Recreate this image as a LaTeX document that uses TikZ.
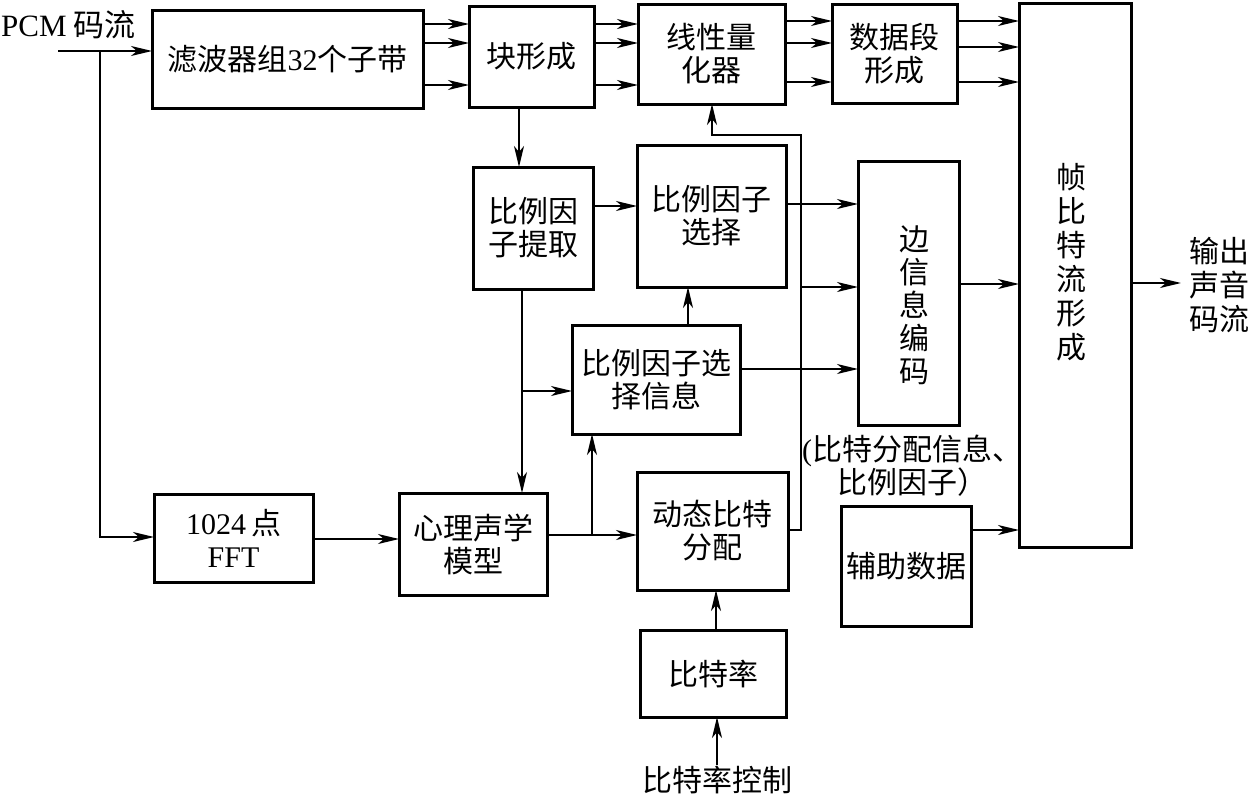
\documentclass[tikz,border=0pt]{standalone}
\usepackage{fontspec}
\setmainfont{Liberation Serif}
\newfontfamily\zhfont{Noto Sans CJK SC}
\newfontfamily\latf{Liberation Serif}
\newcommand\zfont{\zhfont\fontsize{30}{33}\selectfont}
\newcommand\zfontb{\zhfont\fontsize{30}{34}\selectfont}
\newcommand\zfontc{\zhfont\fontsize{31}{34}\selectfont}
\usetikzlibrary{arrows.meta}
\begin{document}
\begin{tikzpicture}[x=1pt,y=-1pt,
  box/.style={draw,line width=3pt,rectangle,inner sep=0pt,outer sep=0pt,align=center,font=\zfont},
  arr/.style={line width=1.9pt,line join=miter,-{Stealth[length=21pt,width=10pt,inset=6pt]}},
  txt/.style={inner sep=0pt,align=center,font=\zfont}]
\useasboundingbox (0,0) rectangle (1249,798);

% boxes
\node[box,minimum width=271pt,minimum height=98pt] (filt) at (287.5,59) {滤波器组{\latf 32}个子带};
\node[box,minimum width=125pt,minimum height=101pt] (blk) at (531.5,56.5) {块形成};
\node[box,minimum width=147pt,minimum height=100pt] (lin) at (711.5,54) {线性量\\化器};
\node[box,minimum width=125pt,minimum height=99pt] (dseg) at (894.5,53.5) {数据段\\形成};
\node[box,minimum width=112pt,minimum height=544pt] (frame) at (1075,275) {};
\node[txt,font=\zfontb] (framet) at (1071,262) {帧\\比\\特\\流\\形\\成};
\node[box,minimum width=120pt,minimum height=122pt] (sfe) at (533,228) {比例因\\子提取};
\node[box,minimum width=149pt,minimum height=142pt] (sfs) at (711.5,216) {比例因子\\选择};
\node[box,minimum width=168pt,minimum height=109pt] (sfsi) at (656,379.5) {比例因子选\\择信息};
\node[box,minimum width=101pt,minimum height=264pt] (side) at (908.5,293) {};
\node[txt] (sidet) at (914,305) {边\\信\\息\\编\\码};
\node[box,minimum width=159pt,minimum height=88pt] (fft) at (233.5,538) {{\latf 1024}\,点\\{\latf FFT}};
\node[box,minimum width=148pt,minimum height=102pt] (psy) at (473,544) {心理声学\\模型};
\node[box,minimum width=151pt,minimum height=118pt] (dba) at (712.5,531) {动态比特\\分配};
\node[box,minimum width=130pt,minimum height=120pt] (aux) at (906,566) {辅助数据};
\node[box,minimum width=146pt,minimum height=87pt] (br) at (713,673.5) {比特率};

% free texts
\node[txt,anchor=west,font=\zfontc] (pcm) at (1,25) {{\latf PCM}\ 码流};
\node[txt] (brc) at (717,780) {比特率控制};
\node[txt] (note) at (912,466) {{\latf (}比特分配信息、\\比例因子）};
\node[txt,anchor=west,align=left,font=\zfontb] (out) at (1189,285) {输出\\声音\\码流};

% connectors
\coordinate (in) at (58,51);
\coordinate (b1) at (100,51);
\coordinate (b2) at (100,537);
\draw[arr] (in) -- (in -| filt.west);
\draw[arr] (b1) -- (b2) -- (b2 -| fft.west);

\foreach \yy in {24,43,85} {
  \coordinate (r) at (0,\yy);
  \draw[arr] (filt.east |- r) -- (blk.west |- r);
  \draw[arr] (blk.east |- r) -- (lin.west |- r);
}
\foreach \yy in {21,43,82} {
  \coordinate (r) at (0,\yy);
  \draw[arr] (lin.east |- r) -- (dseg.west |- r);
}
\foreach \yy in {21,47,82} {
  \coordinate (r) at (0,\yy);
  \draw[arr] (dseg.east |- r) -- (frame.west |- r);
}

\coordinate (c1) at (519,0);
\draw[arr] (blk.south -| c1) -- (sfe.north -| c1);
\coordinate (c2) at (522,0);
\draw[arr] (sfe.south -| c2) -- (psy.north -| c2);
\coordinate (j1) at (522,391);
\draw[arr] (j1) -- (j1 -| sfsi.west);
\coordinate (r206) at (0,206);
\draw[arr] (sfe.east |- r206) -- (sfs.west |- r206);
\coordinate (r539) at (0,539);
\draw[arr] (fft.east |- r539) -- (psy.west |- r539);
\coordinate (j2) at (592,535);
\draw[arr] (psy.east |- j2) -- (j2 -| dba.west);
\draw[arr] (j2) -- (j2 |- sfsi.south);
\coordinate (c3) at (688,0);
\draw[arr] (sfsi.north -| c3) -- (sfs.south -| c3);
\coordinate (r204) at (0,204);
\draw[arr] (sfs.east |- r204) -- (side.west |- r204);
\coordinate (r369) at (0,369);
\draw[arr] (sfsi.east |- r369) -- (side.west |- r369);
\coordinate (k1) at (801,530);
\coordinate (k2) at (801,135);
\coordinate (k3) at (712,135);
\draw[arr] (dba.east |- k1) -- (k1) -- (k2) -- (k3) -- (lin.south -| k3);
\coordinate (k4) at (801,287);
\draw[arr] (k4) -- (k4 -| side.west);
\coordinate (r284) at (0,284);
\draw[arr] (side.east |- r284) -- (frame.west |- r284);
\coordinate (o) at (1181,283);
\draw[arr] (frame.east |- o) -- (o);
\coordinate (r530) at (0,530);
\draw[arr] (aux.east |- r530) -- (frame.west |- r530);
\coordinate (c4) at (716,0);
\draw[arr] (br.north -| c4) -- (dba.south -| c4);
\coordinate (bc) at (717,765);
\draw[arr] (bc) -- (bc |- br.south);
\end{tikzpicture}
\end{document}
